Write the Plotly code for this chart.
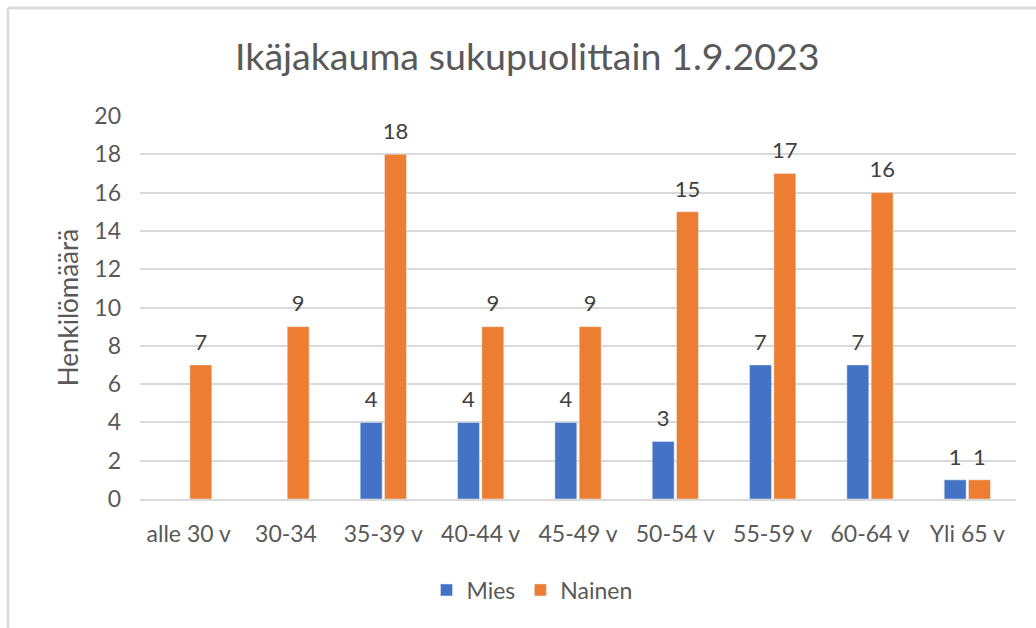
import plotly.graph_objects as go

categories = ["alle 30 v", "30-34", "35-39 v", "40-44 v", "45-49 v", "50-54 v", "55-59 v", "60-64 v", "Yli 65 v"]
mies = [None, None, 4, 4, 4, 3, 7, 7, 1]
nainen = [7, 9, 18, 9, 9, 15, 17, 16, 1]
y_ticks = [0, 2, 4, 6, 8, 10, 12, 14, 16, 18, 20]

FONT = "Lato, 'Open Sans', sans-serif"
GRAY = "#595959"
FS = 23

fig = go.Figure()
for name, vals, color, grp in [("Mies", mies, "#4472C4", "m"), ("Nainen", nainen, "#ED7D31", "n")]:
    fig.add_trace(go.Bar(
        name=name, x=categories, y=vals, marker_color=color,
        offsetgroup=grp, alignmentgroup="a", hoverinfo="x+y+name",
    ))
for name, vals, grp in [("Mies", mies, "m"), ("Nainen", nainen, "n")]:
    fig.add_trace(go.Scatter(
        x=categories, y=vals, mode="text+markers",
        marker=dict(size=14, opacity=0, color="white"),
        text=[("" if v is None else str(v)) for v in vals], textposition="top center",
        textfont=dict(size=22, color="#404040", family=FONT),
        offsetgroup=grp, alignmentgroup="a", showlegend=False, hoverinfo="skip",
        cliponaxis=False,
    ))

L, R, T, B = 140, 20, 116, 129
W, H = 1036, 628
pw = W - L - R
ph = H - T - B

def px(x):
    return (x - L) / pw

def py(y):
    return (H - B - y) / ph

fig.update_layout(
    width=W, height=H,
    margin=dict(l=L, r=R, t=T, b=B),
    paper_bgcolor="white", plot_bgcolor="white",
    font=dict(family=FONT, color=GRAY, size=FS),
    title=dict(text="Ikäjakauma sukupuolittain 1.9.2023", x=0.509, xanchor="center",
               y=1 - 57 / H, yanchor="middle",
               font=dict(size=37.6, color=GRAY, family=FONT)),
    barmode="group", bargap=0.5, bargroupgap=0.1,
    scattermode="group", scattergap=0.5,
    showlegend=True,
    legend=dict(orientation="h", x=px(532), xanchor="center", y=py(590), yanchor="middle",
                font=dict(size=FS, color=GRAY, family=FONT), itemwidth=30),
    yaxis=dict(range=[0, 20], tickvals=y_ticks, showgrid=True, gridcolor="#D9D9D9", gridwidth=1.5,
               zeroline=False, showline=False, ticks="", ticklabelstandoff=18,
               tickfont=dict(size=FS, color=GRAY),
               title=dict(text="Henkilömäärä", font=dict(size=26, color=GRAY), standoff=8)),
    xaxis=dict(showline=True, linecolor="#D9D9D9", linewidth=1.5, ticks="", ticklabelstandoff=14,
               tickfont=dict(size=FS, color=GRAY), range=[-0.5, len(categories) - 0.5]),
    shapes=[
        dict(type="line", xref="paper", yref="paper", x0=px(8), x1=px(8), y0=py(8), y1=py(640),
             line=dict(color="#D9D9D9", width=2.5)),
        dict(type="line", xref="paper", yref="paper", x0=px(8), x1=px(1050), y0=py(8), y1=py(8),
             line=dict(color="#D9D9D9", width=2.5)),
    ],
)

fig.write_html("out.html", config={"displayModeBar": False},
               post_script="document.body.style.margin='0px';document.body.style.overflow='hidden';")
